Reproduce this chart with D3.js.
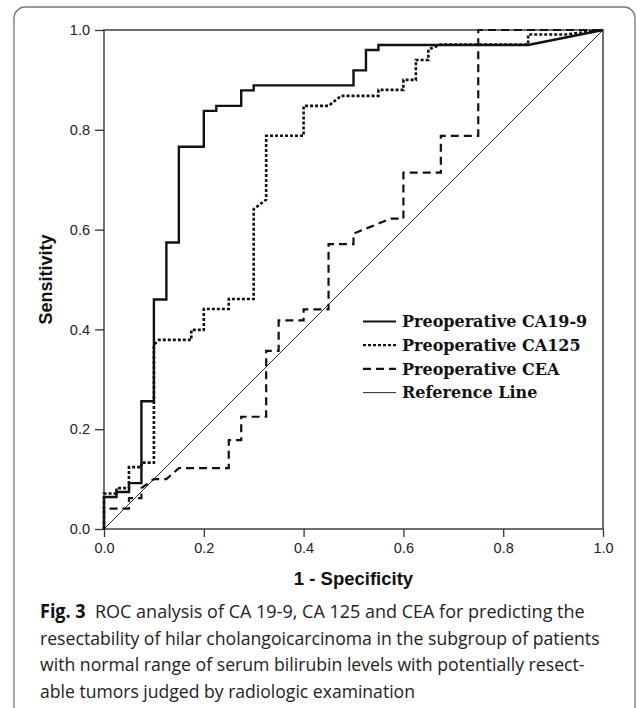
<!DOCTYPE html>
<html>
<head>
<meta charset="utf-8">
<script src="https://cdn.jsdelivr.net/npm/d3@7"></script>
<style>
  body { margin: 0; background: #fff; }
  svg { display: block; }
  .tick text { font-family: "Liberation Sans", Arial, sans-serif; font-size: 14.5px; fill: #222; }
  .tick line { stroke: #333; stroke-width: 1.3; }
  .eixo-titulo { font-family: "Liberation Sans", Arial, sans-serif; font-weight: bold; fill: #111; }
  .legenda text { font-family: "DejaVu Serif", "Liberation Serif", serif; font-weight: bold; font-size: 16px; fill: #111; }
  .legenda-fig { font-family: "Open Sans", "Noto Sans", sans-serif; font-size: 19px; fill: #222; }
</style>
</head>
<body>
<svg id="grafico" width="637" height="708"></svg>
<script>
// curvas ROC: pares [1 - especificidade, sensibilidade]
const ca199 = [[0,0],[0,0.064],[0.025,0.064],[0.025,0.074],[0.05,0.074],[0.05,0.092],[0.075,0.092],
  [0.075,0.256],[0.10,0.256],[0.10,0.46],[0.125,0.46],[0.125,0.574],[0.15,0.574],[0.15,0.766],
  [0.20,0.766],[0.20,0.838],[0.225,0.838],[0.225,0.848],[0.275,0.848],[0.275,0.879],[0.30,0.879],
  [0.30,0.889],[0.50,0.889],[0.50,0.919],[0.525,0.919],[0.525,0.960],[0.55,0.960],[0.55,0.970],
  [0.85,0.970],[1,1]];
const ca125 = [[0,0],[0,0.071],[0.025,0.071],[0.025,0.082],[0.05,0.082],[0.05,0.124],[0.075,0.124],
  [0.075,0.133],[0.10,0.133],[0.10,0.369],[0.11,0.379],[0.175,0.379],[0.175,0.399],[0.20,0.399],
  [0.20,0.441],[0.25,0.441],[0.25,0.461],[0.30,0.461],[0.30,0.641],[0.325,0.66],[0.325,0.788],
  [0.40,0.788],[0.40,0.848],[0.45,0.848],[0.475,0.868],[0.55,0.868],[0.55,0.88],[0.60,0.88],
  [0.60,0.90],[0.625,0.90],[0.625,0.94],[0.65,0.94],[0.65,0.961],[0.675,0.971],[0.85,0.971],
  [0.85,0.991],[0.925,0.991],[1,1]];
const cea = [[0,0],[0,0.041],[0.05,0.041],[0.05,0.062],[0.075,0.062],[0.075,0.082],[0.10,0.10],
  [0.125,0.10],[0.15,0.122],[0.25,0.122],[0.25,0.178],[0.275,0.178],[0.275,0.225],[0.325,0.225],
  [0.325,0.357],[0.35,0.357],[0.35,0.418],[0.40,0.418],[0.40,0.44],[0.45,0.44],[0.45,0.571],
  [0.50,0.571],[0.50,0.592],[0.525,0.602],[0.575,0.622],[0.60,0.622],[0.60,0.714],[0.675,0.714],
  [0.675,0.788],[0.75,0.788],[0.75,1],[1,1]];
const referencia = [[0,0],[1,1]];

const nomesSeries = ["Preoperative CA19-9", "Preoperative CA125", "Preoperative CEA", "Reference Line"];
const ticks = [0, 0.2, 0.4, 0.6, 0.8, 1.0];
const legendaFig = [
  ["Fig. 3", "  ROC analysis of CA 19-9, CA 125 and CEA for predicting the"],
  ["", "resectability of hilar cholangoicarcinoma in the subgroup of patients"],
  ["", "with normal range of serum bilirubin levels with potentially resect-"],
  ["", "able tumors judged by radiologic examination"]
];

const svg = d3.select("#grafico");

// moldura arredondada da figura
svg.append("rect")
  .attr("x", 14).attr("y", 7).attr("width", 621).attr("height", 712)
  .attr("rx", 11).attr("fill", "none").attr("stroke", "#777").attr("stroke-width", 1.3);

const x = d3.scaleLinear().domain([0, 1]).range([104, 603]);
const y = d3.scaleLinear().domain([0, 1]).range([529, 30]);

svg.append("g")
  .attr("transform", "translate(0,529)")
  .call(d3.axisBottom(x).tickValues(ticks).tickFormat(d3.format(".1f")).tickSize(8).tickPadding(6).tickSizeOuter(0))
  .call(g => g.select(".domain").remove());

svg.append("g")
  .attr("transform", "translate(104,0)")
  .call(d3.axisLeft(y).tickValues(ticks).tickFormat(d3.format(".1f")).tickSize(9).tickPadding(5).tickSizeOuter(0))
  .call(g => g.select(".domain").remove());

svg.append("rect")
  .attr("x", x(0)).attr("y", y(1))
  .attr("width", x(1) - x(0)).attr("height", y(0) - y(1))
  .attr("fill", "none").attr("stroke", "#333").attr("stroke-width", 1.4);

const linha = d3.line().x(d => x(d[0])).y(d => y(d[1]));

const estilos = [
  { dados: ca199, largura: 2.4, traco: null },
  { dados: ca125, largura: 2.6, traco: "3,2" },
  { dados: cea, largura: 2.2, traco: "8,5" },
  { dados: referencia, largura: 0.9, traco: null }
];

svg.append("g").selectAll("path")
  .data(estilos.slice().reverse())
  .join("path")
  .attr("d", d => linha(d.dados))
  .attr("fill", "none")
  .attr("stroke", "#111")
  .attr("stroke-width", d => d.largura)
  .attr("stroke-dasharray", d => d.traco);

// legenda
const leg = svg.append("g").attr("class", "legenda");
const itens = leg.selectAll("g")
  .data(estilos.map((e, i) => ({ ...e, nome: nomesSeries[i] })))
  .join("g")
  .attr("transform", (d, i) => `translate(363,${321.5 + i * 23.7})`);
itens.append("line")
  .attr("x1", 0).attr("x2", 33).attr("y1", 0).attr("y2", 0)
  .attr("stroke", "#111")
  .attr("stroke-width", d => Math.min(d.largura, 2.2))
  .attr("stroke-dasharray", d => d.traco);
itens.append("text")
  .attr("x", 39).attr("dy", "0.35em")
  .text(d => d.nome);

// titulos dos eixos
svg.append("text").attr("class", "eixo-titulo")
  .attr("x", x(0.5)).attr("y", 585)
  .attr("text-anchor", "middle").attr("font-size", 18.5)
  .text("1 - Specificity");

svg.append("text").attr("class", "eixo-titulo")
  .attr("transform", `translate(52,${y(0.5)}) rotate(-90)`)
  .attr("text-anchor", "middle").attr("font-size", 18)
  .text("Sensitivity");

// legenda da figura: fonte estreitada horizontalmente para caber na largura
const larguras = [545, 560, 545, 375];
legendaFig.forEach((l, i) => {
  const g = svg.append("g");
  const t = g.append("text").attr("class", "legenda-fig")
    .attr("x", 0).attr("y", 0)
    .attr("xml:space", "preserve");
  if (l[0]) t.append("tspan").attr("font-weight", "bold").attr("fill", "#111").text(l[0]);
  t.append("tspan").text(l[1]);
  const natural = t.node().getComputedTextLength();
  const sx = larguras[i] / natural;
  g.attr("transform", `translate(40,${618 + i * 26.5}) scale(${sx},1)`);
});
</script>
</body>
</html>
